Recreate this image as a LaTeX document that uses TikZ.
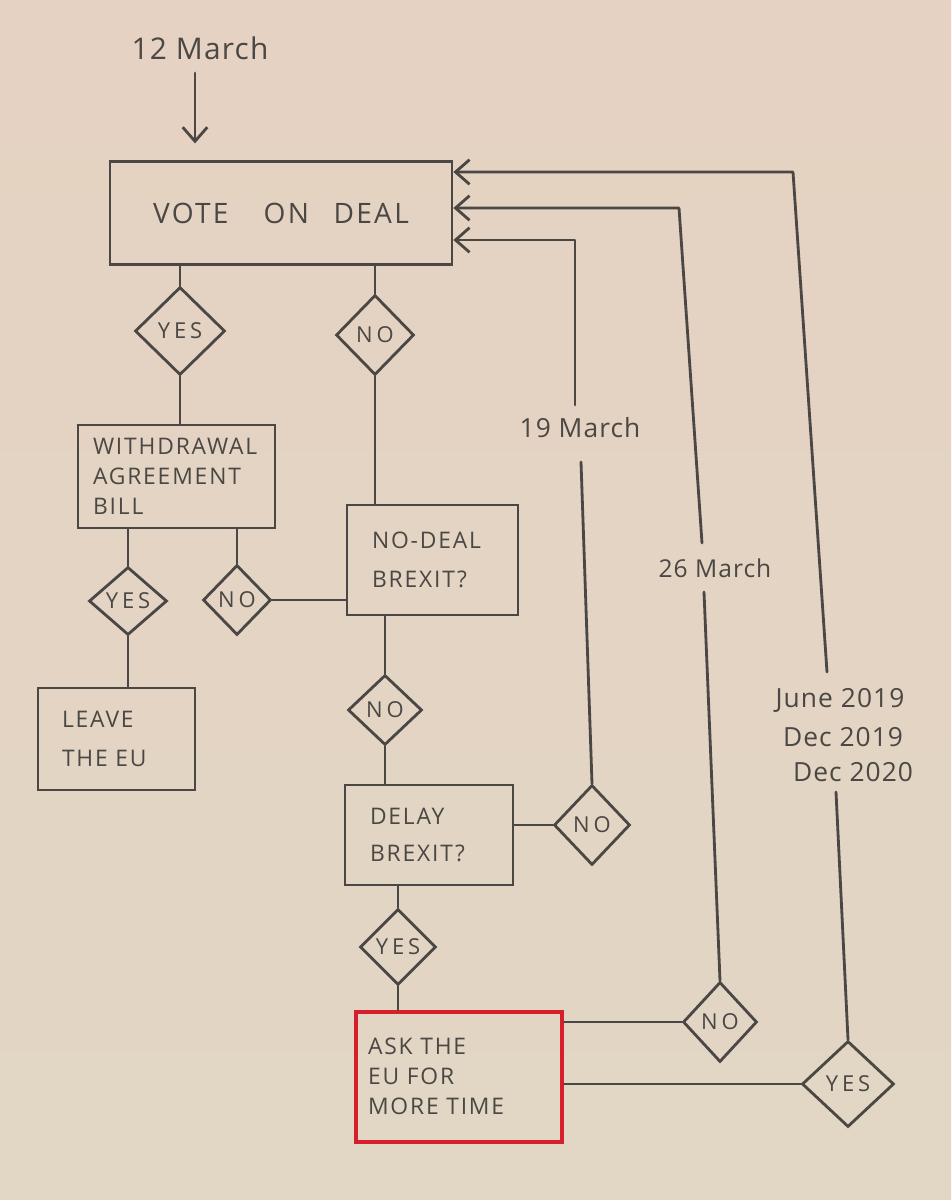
\documentclass[tikz,border=0pt]{standalone}
\usepackage{fontspec}
\setmainfont{Open Sans}
\newfontfamily\hand[LetterSpace=8]{Open Sans}
\newfontfamily\dfont[LetterSpace=18]{Open Sans}
\newfontfamily\lbf[LetterSpace=4]{Open Sans}
\usetikzlibrary{shapes.geometric,arrows.meta}
\definecolor{paperA}{HTML}{E5D2C2}
\definecolor{paperM}{HTML}{DDD8D0}
\definecolor{paperB}{HTML}{E2D6C4}
\definecolor{ink}{HTML}{4A4744}
\definecolor{redbox}{HTML}{D71F2B}
\tikzset{
  wire/.style={draw=ink, line width=1.6pt, line join=round, line cap=round},
  arr/.style={wire, -{Straight Barb[length=8pt,width=14pt,line width=1.6pt]}},
  box/.style={draw=ink, line width=1.6pt, rectangle, inner sep=0pt, text=ink, align=left,
              font=\hand\fontsize{13}{17}\selectfont},
  dia/.style={draw=ink, line width=1.6pt, diamond, inner sep=0pt, text=ink,
              font=\dfont\fontsize{12.5}{14}\selectfont},
  lbl/.style={text=ink, inner sep=1pt, font=\lbf\fontsize{15}{18}\selectfont},
}
\begin{document}
\begin{tikzpicture}[x=0.02cm,y=-0.02cm]
\useasboundingbox (0,0) rectangle (951,1200);
\fill[top color=paperA, middle color=paperM, bottom color=paperB, draw=none] (0,0) rectangle (951,1200);

% labels
\node[lbl, font=\lbf\fontsize{17}{20}\selectfont] (m12) at (200,48) {12 March};
\node[lbl] (m19) at (580,428) {19 March};
\node[lbl, font=\lbf\fontsize{14}{18}\selectfont] (m26) at (715,568) {26 March};
\node[lbl] (j19) at (840,700) {June 2019};
\node[lbl] (d19) at (843,737) {Dec 2019};
\node[lbl] (d20) at (853,772) {Dec 2020};

% boxes
\node[box, minimum width=6.84cm, minimum height=2.06cm, font=\hand\fontsize{16}{20}\selectfont]
  (vote) at (281,213) {VOTE\hspace{20pt}ON\hspace{14pt}DEAL};
\node[box, minimum width=3.94cm, minimum height=2.06cm, text width=3.34cm]
  (wab) at (176.5,476.5) {WITHDRAWAL\\AGREEMENT\\BILL};
\node[box, minimum width=3.14cm, minimum height=2.04cm, text width=2.18cm,
      font=\hand\fontsize{13}{22}\selectfont]
  (leave) at (116.5,739) {LEAVE\\THE EU};
\node[box, minimum width=3.42cm, minimum height=2.2cm, text width=2.42cm,
      font=\hand\fontsize{13}{22}\selectfont]
  (nodeal) at (432.5,560) {NO-DEAL\\BREXIT?};
\node[box, minimum width=3.36cm, minimum height=2.0cm, text width=2.36cm,
      font=\hand\fontsize{13}{21}\selectfont]
  (delay) at (429,835) {DELAY\\BREXIT?};
\node[box, draw=redbox, line width=2.4pt, minimum width=4.12cm, minimum height=2.6cm, text width=3.64cm]
  (ask) at (459,1077) {\\[-8pt]ASK THE\\EU FOR\\MORE TIME};

% diamonds
\node[dia, minimum width=1.8cm, minimum height=1.76cm] (d1) at (180,331) {YES};
\node[dia, minimum width=1.56cm, minimum height=1.6cm] (d2) at (375,335) {NO};
\node[dia, minimum width=1.56cm, minimum height=1.36cm] (d3) at (128,601) {YES};
\node[dia, minimum width=1.36cm, minimum height=1.4cm] (d4) at (237,600) {NO};
\node[dia, minimum width=1.48cm, minimum height=1.4cm] (d5) at (385,710) {NO};
\node[dia, minimum width=1.52cm, minimum height=1.6cm] (d6) at (592,825) {NO};
\node[dia, minimum width=1.52cm, minimum height=1.52cm] (d7) at (398,947) {YES};
\node[dia, minimum width=1.48cm, minimum height=1.6cm] (d8) at (720,1022) {NO};
\node[dia, minimum width=1.84cm, minimum height=1.72cm] (d9) at (848,1084) {YES};

% start arrow
\coordinate (s0) at (195,73);
\draw[arr, shorten >=9.5pt] (s0) -- (s0 |- vote.north);

% tree connectors
\draw[wire] (d1.north |- vote.south) -- (d1.north);
\draw[wire] (d2.north |- vote.south) -- (d2.north);
\draw[wire] (d1.south) -- (d1.south |- wab.north);
\draw[wire] (d2.south) -- (d2.south |- nodeal.north);
\draw[wire] (d3.north |- wab.south) -- (d3.north);
\draw[wire] (d4.north |- wab.south) -- (d4.north);
\draw[wire] (d4.east) -- (d4.east -| nodeal.west);
\draw[wire] (d3.south) -- (d3.south |- leave.north);
\draw[wire] (d5.north |- nodeal.south) -- (d5.north);
\draw[wire] (d5.south) -- (d5.south |- delay.north);
\draw[wire] (delay.east |- d6.west) -- (d6.west);
\draw[wire] (d7.north |- delay.south) -- (d7.north);
\draw[wire] (d7.south) -- (d7.south |- ask.north);
\draw[wire] (ask.east |- d8.west) -- (d8.west);
\draw[wire] (ask.east |- d9.west) -- (d9.west);

% loop-back connectors
\coordinate (a1) at (581,462); \coordinate (a2) at (575,405); \coordinate (a3) at (575,240);
\draw[wire] (d6.north) -- (a1);
\draw[arr] (a2) -- (a3) -- (a3 -| vote.east);

\coordinate (b1) at (704,592); \coordinate (b2) at (702,543); \coordinate (b3) at (679,208);
\draw[wire] (d8.north) -- (b1);
\draw[arr] (b2) -- (b3) -- (b3 -| vote.east);

\coordinate (c1) at (836,792); \coordinate (c2) at (827,672); \coordinate (c3) at (793,172);
\draw[wire] (d9.north) -- (c1);
\draw[arr] (c2) -- (c3) -- (c3 -| vote.east);
\end{tikzpicture}
\end{document}
